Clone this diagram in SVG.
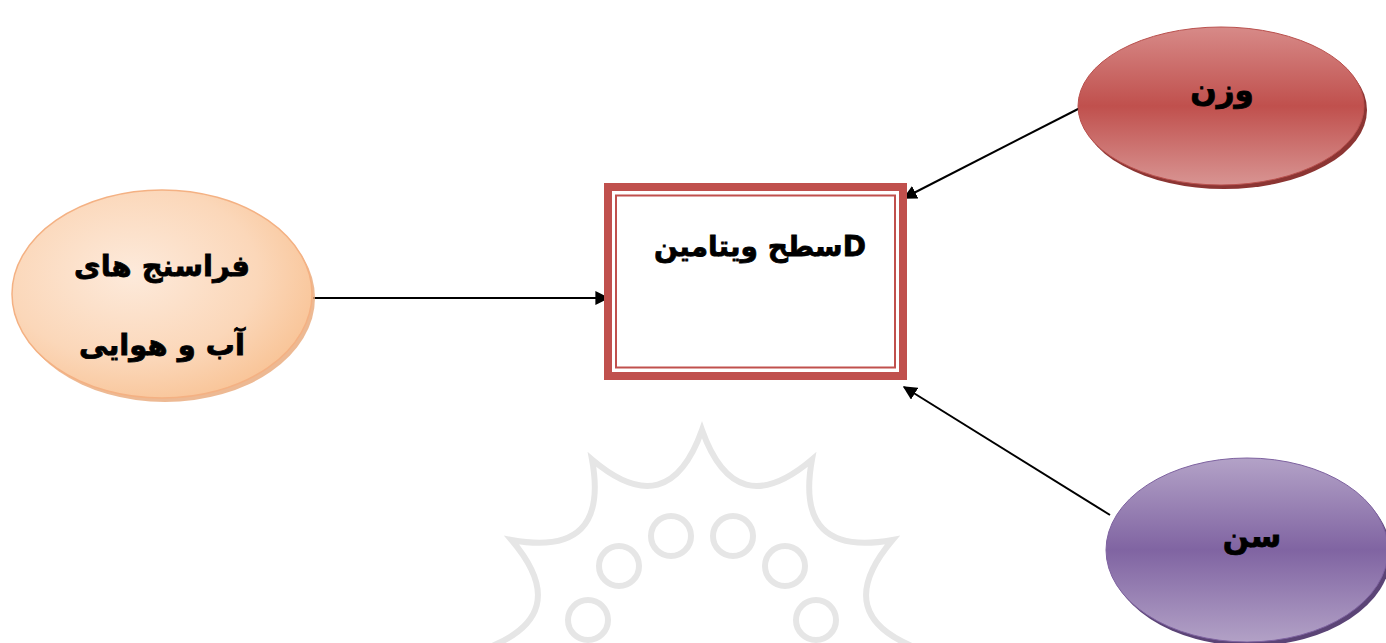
<svg xmlns="http://www.w3.org/2000/svg" width="1386" height="643" viewBox="0 0 1386 643">
<defs>
<radialGradient id="gPeach" cx="0.4" cy="0.4" r="0.7">
<stop offset="0" stop-color="#fdeadb"/>
<stop offset="0.6" stop-color="#fbd7b9"/>
<stop offset="1" stop-color="#f8c090"/>
</radialGradient>
<linearGradient id="gRed" x1="0" y1="0" x2="0" y2="1">
<stop offset="0" stop-color="#d78a88"/>
<stop offset="0.5" stop-color="#c0504d"/>
<stop offset="1" stop-color="#d89492"/>
</linearGradient>
<linearGradient id="gPurple" x1="0" y1="0" x2="0" y2="1">
<stop offset="0" stop-color="#b3a2c7"/>
<stop offset="0.5" stop-color="#8064a2"/>
<stop offset="1" stop-color="#b2a1c6"/>
</linearGradient>
<marker id="arrow" viewBox="0 0 10 10" refX="9" refY="5" markerWidth="7" markerHeight="7" markerUnits="strokeWidth" orient="auto">
<path d="M0,0 L10,5 L0,10 z" fill="#000"/>
</marker>
</defs>
<style>
.lbl{font-family:"DejaVu Sans",sans-serif;font-weight:bold;fill:#000;stroke:#000;stroke-width:0.8;text-anchor:middle}
.conn{stroke:#000;stroke-width:2;fill:none;marker-end:url(#arrow)}
.wm{fill:none;stroke:#e6e6e6;stroke-width:6}
</style>
<rect width="1386" height="643" fill="#fff"/>
<g id="watermark">
<path class="wm" d="M482,650 Q576.4,616.3 511.5,540 Q610.1,558.1 592,459.5 Q668.4,524.4 702,430 Q735.6,524.4 812,459.5 Q793.9,558.1 892.5,540 Q827.6,616.3 922,650"/>
<circle class="wm" cx="671" cy="536" r="20"/>
<circle class="wm" cx="733" cy="536" r="20"/>
<circle class="wm" cx="619" cy="566" r="20"/>
<circle class="wm" cx="785" cy="566" r="20"/>
<circle class="wm" cx="588" cy="620" r="20"/>
<circle class="wm" cx="816" cy="620" r="20"/>
</g>
<g id="connectors">
<line class="conn" x1="313" y1="298" x2="608" y2="298"/>
<line class="conn" x1="1080" y1="108" x2="904" y2="198"/>
<line class="conn" x1="1110" y1="515" x2="904" y2="387"/>
</g>
<g id="node-vitamin">
<rect x="608" y="187" width="295" height="189" fill="#fff" stroke="#c0504d" stroke-width="8"/>
<rect x="616" y="195.5" width="279" height="172" fill="none" stroke="#c0504d" stroke-width="2"/>
<text class="lbl" x="760" y="256" font-size="28">سطح ویتامینD</text>
</g>
<g id="node-climate">
<ellipse cx="165" cy="298" rx="150" ry="104" fill="#e8a878" opacity="0.8"/>
<ellipse cx="162" cy="294" rx="150" ry="104" fill="url(#gPeach)" stroke="#f4b183" stroke-width="1.5"/>
<text class="lbl" x="162" y="276" font-size="29">فراسنج های</text>
<text class="lbl" x="162" y="355" font-size="29">آب و هوایی</text>
</g>
<g id="node-weight">
<ellipse cx="1224" cy="110" rx="143" ry="79" fill="#8c3533"/>
<ellipse cx="1221" cy="106" rx="143" ry="79" fill="url(#gRed)" stroke="#b9504d" stroke-width="1"/>
<text class="lbl" x="1222" y="101" font-size="31">وزن</text>
</g>
<g id="node-age">
<ellipse cx="1250" cy="554" rx="141" ry="92" fill="#5b4476"/>
<ellipse cx="1247" cy="550" rx="141" ry="92" fill="url(#gPurple)" stroke="#7e62a0" stroke-width="1"/>
<text class="lbl" x="1252" y="547" font-size="31">سن</text>
</g>
</svg>
